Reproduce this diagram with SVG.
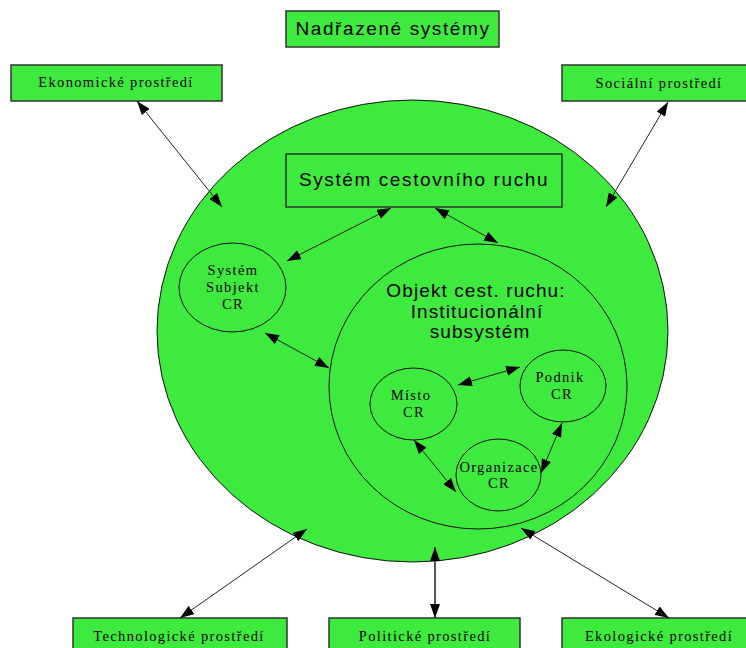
<svg xmlns="http://www.w3.org/2000/svg" width="746" height="648" viewBox="0 0 746 648">
<defs>
<style>
.box{fill:#3dea3d;stroke:#333;stroke-width:1.5}
.circ{fill:#3dea3d;stroke:#111;stroke-width:1}
.ring{fill:none;stroke:#111;stroke-width:1}
.sans{font-family:"Liberation Sans",Arial,sans-serif;font-size:19px;fill:#000;text-anchor:middle;letter-spacing:1.6px}
.serif{font-family:"Liberation Serif","Times New Roman",serif;font-size:14.5px;fill:#000;text-anchor:middle;letter-spacing:1.35px}
.conn{stroke:#222;stroke-width:1;fill:none;marker-start:url(#ah);marker-end:url(#ah)}
.thick{stroke:#555;stroke-width:2}
</style>
<marker id="ah" viewBox="0 0 14 10" refX="14" refY="5" markerWidth="14" markerHeight="10" markerUnits="userSpaceOnUse" orient="auto-start-reverse">
<path d="M0,0 L14,5 L0,10 z" fill="#000"/>
</marker>
</defs>
<rect width="746" height="648" fill="#fff"/>

<g id="title">
<rect class="box" x="286" y="11" width="213" height="36"/>
<text class="sans" x="393" y="35">Nadřazené systémy</text>
</g>
<g id="ekonomicke">
<rect class="box" x="11" y="65" width="211" height="36"/>
<text class="serif" x="116" y="87">Ekonomické prostředí</text>
</g>
<g id="socialni">
<rect class="box" x="562" y="65" width="194" height="36"/>
<text class="serif" x="659" y="88">Sociální prostředí</text>
</g>

<g id="okoli">
<ellipse class="circ" cx="412.5" cy="331" rx="255.5" ry="231"/>
</g>

<g id="system-cr">
<rect class="box" x="286" y="154" width="276" height="53"/>
<text class="sans" x="424" y="186">Systém cestovního ruchu</text>
</g>

<g id="subjekt">
<ellipse class="ring" cx="232.5" cy="287.5" rx="53.5" ry="44.5"/>
<text class="serif" x="233" y="275">Systém</text>
<text class="serif" x="233" y="292">Subjekt</text>
<text class="serif" x="233" y="309">CR</text>
</g>

<g id="objekt">
<ellipse class="ring" cx="478" cy="386.5" rx="149" ry="142.5"/>
<text class="sans" x="476" y="297" style="letter-spacing:1.1px">Objekt cest. ruchu:</text>
<text class="sans" x="477" y="318" style="letter-spacing:1.1px">Institucionální</text>
<text class="sans" x="480" y="338" style="letter-spacing:1.1px">subsystém</text>
</g>

<g id="misto">
<ellipse class="ring" cx="413.5" cy="404" rx="43.5" ry="36"/>
<text class="serif" x="411" y="400">Místo</text>
<text class="serif" x="414" y="417">CR</text>
</g>
<g id="podnik">
<ellipse class="ring" cx="563" cy="386" rx="43" ry="36"/>
<text class="serif" x="560" y="382">Podnik</text>
<text class="serif" x="562" y="399">CR</text>
</g>
<g id="organizace">
<ellipse class="ring" cx="498.5" cy="475" rx="42.5" ry="36"/>
<text class="serif" x="499" y="472">Organizace</text>
<text class="serif" x="499" y="488">CR</text>
</g>

<g id="technologicke">
<rect class="box" x="73" y="618" width="214" height="36"/>
<text class="serif" x="179" y="641">Technologické prostředí</text>
</g>
<g id="politicke">
<rect class="box" x="329" y="618" width="191" height="36"/>
<text class="serif" x="425" y="641">Politické prostředí</text>
</g>
<g id="ekologicke">
<rect class="box" x="562" y="618" width="194" height="36"/>
<text class="serif" x="659" y="641">Ekologické prostředí</text>
</g>

<g id="connectors">
<line class="conn" x1="137" y1="101" x2="222" y2="207"/>
<line class="conn" x1="668" y1="102" x2="606" y2="207"/>
<line class="conn" x1="391" y1="208" x2="287" y2="261"/>
<line class="conn" x1="435" y1="208" x2="498" y2="243"/>
<line class="conn" x1="265" y1="333" x2="329" y2="368"/>
<line class="conn" x1="458" y1="385" x2="520" y2="367"/>
<line class="conn" x1="414" y1="440" x2="456" y2="492"/>
<line class="conn" x1="562" y1="423" x2="541" y2="473"/>
<line class="conn" x1="307" y1="529" x2="180" y2="618"/>
<line class="conn thick" x1="435" y1="547" x2="435" y2="618"/>
<line class="conn" x1="521" y1="528" x2="669" y2="618"/>
</g>
</svg>
